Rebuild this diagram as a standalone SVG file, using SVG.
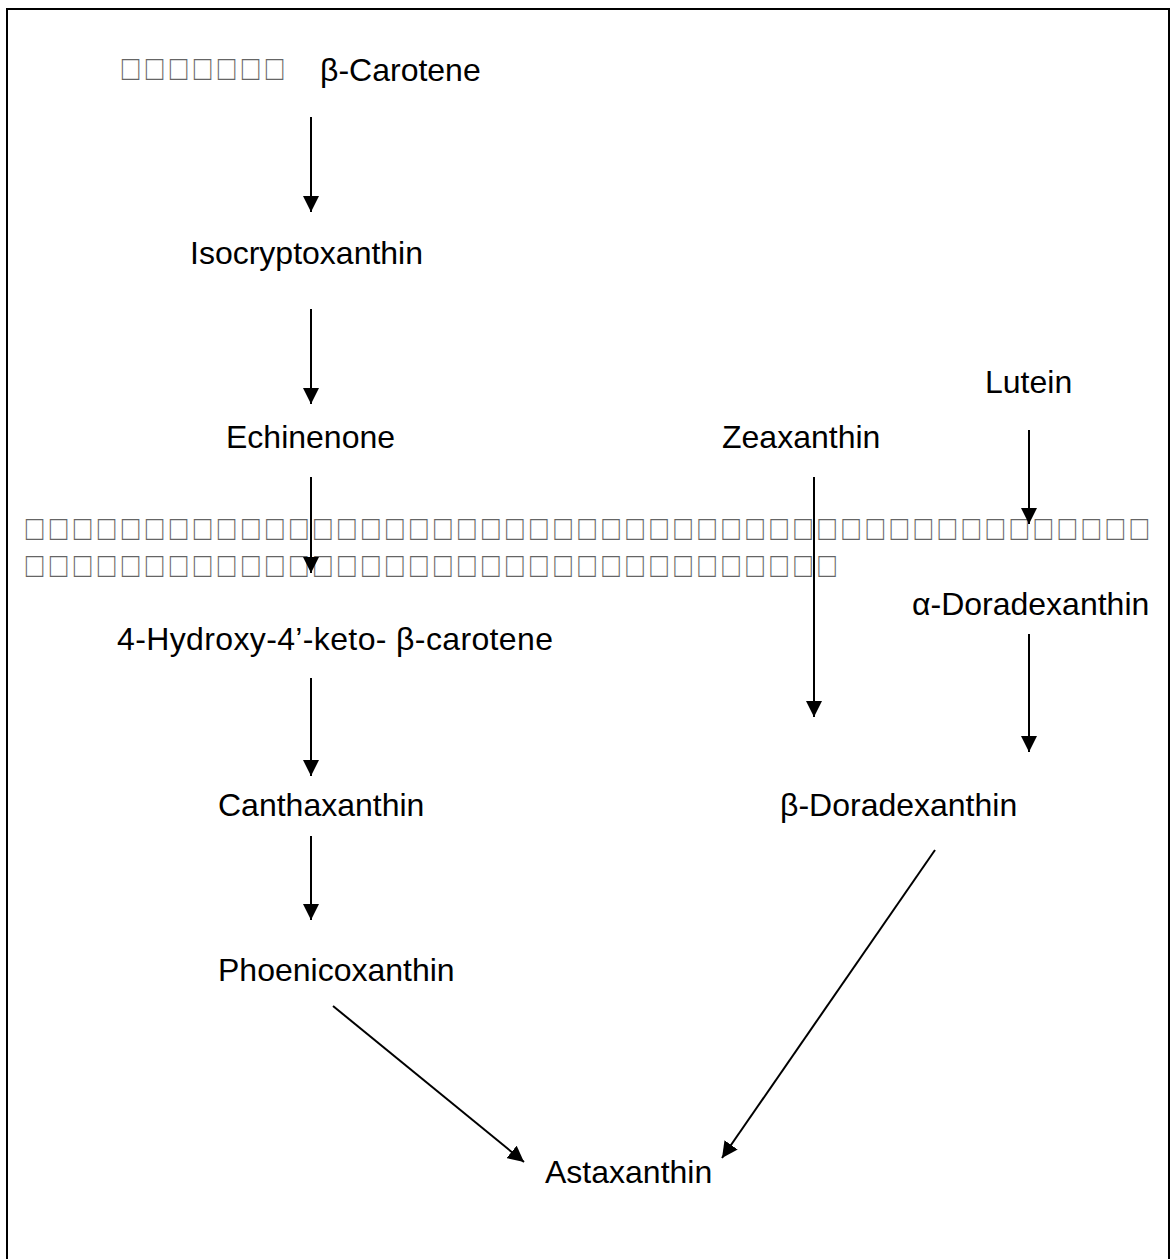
<svg xmlns="http://www.w3.org/2000/svg" width="1171" height="1259" viewBox="0 0 1171 1259">
<style>
.t{font-family:"Liberation Sans",Arial,sans-serif;font-size:32px;fill:#000}
.q{font-family:"Liberation Sans",Arial,sans-serif;font-size:34px;fill:#000;letter-spacing:7.4px}
.tofu{opacity:0.6}
.c{stroke:#000;stroke-width:2;fill:none;marker-end:url(#ah)}
</style>
<defs>
<marker id="ah" markerUnits="userSpaceOnUse" markerWidth="16" markerHeight="16" refX="15" refY="7.5" orient="auto" viewBox="0 0 15 15">
<path d="M0,0 L15,7.5 L0,15 z" fill="#000"/>
</marker>
</defs>
<rect x="7" y="9" width="1162" height="1300" fill="#fff" stroke="#000" stroke-width="2"/>
<g id="tofu1" class="tofu"><text class="q" transform="translate(121.7,0) scale(0.86,1.03)" x="0" y="77.5">□□□□□□□</text></g>
<g id="tofu2" class="tofu"><text class="q" transform="translate(25.7,0) scale(0.86,1.03)" x="0" y="524.5">□□□□□□□□□□□□□□□□□□□□□□□□□□□□□□□□□□□□□□□□□□□□□□□</text><text class="q" transform="translate(25.7,0) scale(0.86,1.03)" x="0" y="560">□□□□□□□□□□□□□□□□□□□□□□□□□□□□□□□□□□</text></g>
<g id="n-bcarotene"><text class="t" x="320" y="81">β-Carotene</text></g>
<g id="n-isocrypto"><text class="t" x="190" y="264">Isocryptoxanthin</text></g>
<g id="n-lutein"><text class="t" x="985" y="393">Lutein</text></g>
<g id="n-echinenone"><text class="t" x="226" y="448">Echinenone</text></g>
<g id="n-zeaxanthin"><text class="t" x="722" y="448">Zeaxanthin</text></g>
<g id="n-adorad"><text class="t" x="912" y="615">α-Doradexanthin</text></g>
<g id="n-hydroxy"><text class="t" x="117" y="650" textLength="436" lengthAdjust="spacing">4-Hydroxy-4’-keto- β-carotene</text></g>
<g id="n-cantha"><text class="t" x="218" y="816">Canthaxanthin</text></g>
<g id="n-bdorad"><text class="t" x="780" y="816">β-Doradexanthin</text></g>
<g id="n-phoenico"><text class="t" x="218" y="981">Phoenicoxanthin</text></g>
<g id="n-astax"><text class="t" x="545" y="1183">Astaxanthin</text></g>
<g id="connectors">
<line class="c" x1="311" y1="117" x2="311" y2="212"/>
<line class="c" x1="311" y1="309" x2="311" y2="404"/>
<line class="c" x1="311" y1="477" x2="311" y2="573"/>
<line class="c" x1="311" y1="678" x2="311" y2="776"/>
<line class="c" x1="311" y1="836" x2="311" y2="920"/>
<line class="c" x1="1029" y1="430" x2="1029" y2="524"/>
<line class="c" x1="814" y1="477" x2="814" y2="717"/>
<line class="c" x1="1029" y1="634" x2="1029" y2="752"/>
<line class="c" x1="333" y1="1006" x2="524" y2="1162"/>
<line class="c" x1="935" y1="850" x2="722" y2="1158"/>
</g>
</svg>
